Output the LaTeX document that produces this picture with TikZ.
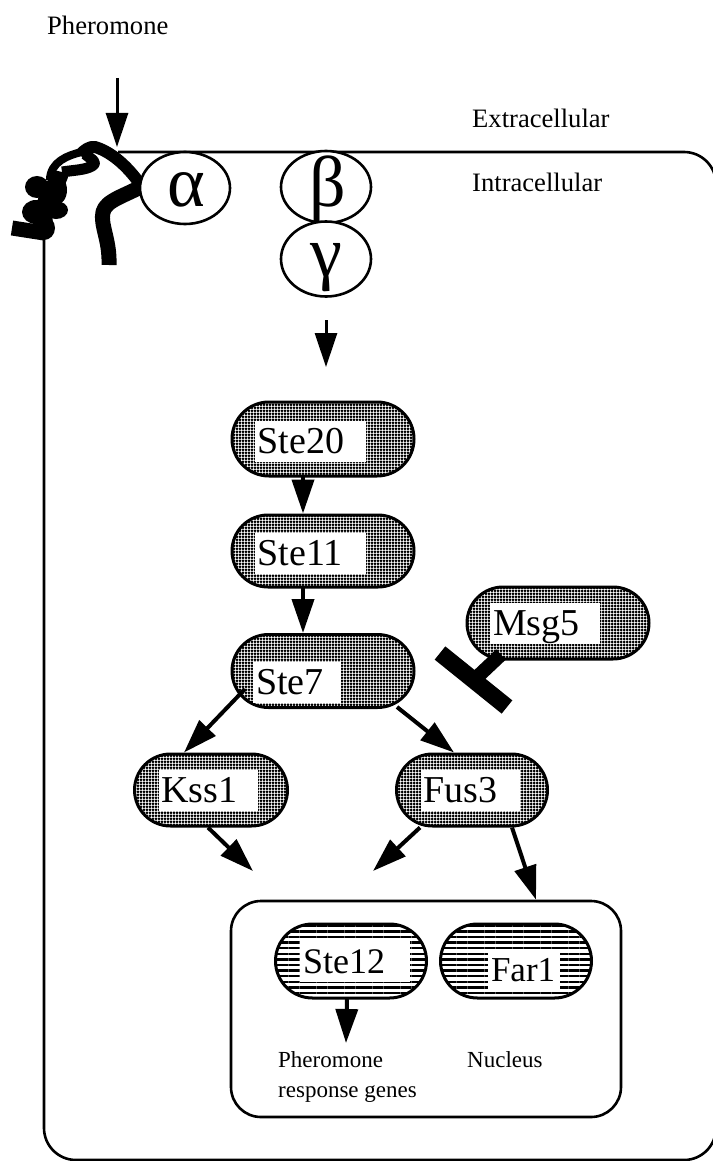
\documentclass[tikz,border=0pt]{standalone}
\usepackage{fontspec}
\setmainfont{Liberation Serif}
\usetikzlibrary{arrows.meta,shapes.misc,shapes.geometric,patterns.meta}
\tikzset{
  x=1pt,y=-1pt,
  pill/.style={rounded rectangle,draw=black,line width=3pt,inner sep=0pt},
  kinase/.style={pill,pattern={Dots[distance=3pt,radius=1.5pt,angle=0]}},
  nuclear/.style={pill,pattern={Lines[angle=0,distance=5.6pt,line width=2.4pt]}},
  tag/.style={fill=white,inner xsep=3pt,inner ysep=0pt,align=left,
    font=\fontsize{38}{40}\selectfont,text height=26pt,text depth=1pt},
  subunit/.style={ellipse,draw=black,line width=2.6pt,fill=white,inner sep=0pt,
    minimum width=90pt,minimum height=72pt},
  greek/.style={inner sep=0pt,font=\fontsize{72}{72}\selectfont},
  caption/.style={anchor=base west,inner sep=0pt,font=\fontsize{26.6}{30}\selectfont},
  small/.style={anchor=base west,inner sep=0pt,font=\fontsize{23}{30}\selectfont},
  signal/.style={line width=3pt,-{Triangle[length=34pt,width=22pt]}},
  shortsignal/.style={line width=4pt,-{Triangle[length=34pt,width=22pt]}},
  receptor/.style={line width=12pt,line join=round},
}
\begin{document}
\begin{tikzpicture}
\useasboundingbox (0,0) rectangle (712,1161);

% cell outline
\draw[line width=2.6pt,rounded corners=32pt] (44,230) -- (44,1160) -- (716,1160) -- (716,152) -- (118,152);

% seven-helix receptor threading the membrane
\draw[receptor,line width=15pt] (109,265) .. controls (110,240) and (100,225) .. (103,212)
  .. controls (106,200) and (125,196) .. (144,185);
\draw[receptor,line width=12pt] (144,190) .. controls (130,168) and (112,152) .. (95,147)
  .. controls (90,146) and (84,150) .. (80,155);
\draw[receptor,line width=11pt] (85,154) .. controls (92,160) and (98,162) .. (92,166)
  .. controls (85,170) and (75,170) .. (62,172);
\draw[receptor,line width=8pt] (82,152) .. controls (68,155) and (50,162) .. (50,180);
\draw[receptor,line width=14pt] (62,172) .. controls (60,185) and (50,190) .. (45,200)
  .. controls (40,212) and (50,222) .. (44,230);
\fill (37,187) ellipse [x radius=12pt,y radius=11pt];
\fill (56,190) ellipse [x radius=11pt,y radius=15pt];
\fill (36,212) ellipse [x radius=14pt,y radius=12pt];
\fill (56,210) ellipse [x radius=12pt,y radius=9pt];
\fill (44,228) ellipse [x radius=11pt,y radius=12pt];
\draw[line width=15pt] (12,228) -- (44,233);

% G protein subunits
\node[subunit] (alpha) at (185,188) {};
\node[subunit] (beta) at (326,187) {};
\node[subunit,minimum height=75pt] (gamma) at (326,259) {};
\node[greek] at (186,190) {α};
\node[greek] at (328,189) {β};
\node[greek] at (326,268) {γ};

% kinase cascade
\node[kinase,minimum width=182pt,minimum height=74pt] (ste20) at (323,439) {};
\node[kinase,minimum width=182pt,minimum height=72pt] (ste11) at (323,551) {};
\node[kinase,minimum width=182pt,minimum height=73pt] (ste7) at (323,671) {};
\node[kinase,minimum width=182pt,minimum height=72pt] (msg5) at (558,623) {};
\node[kinase,minimum width=153pt,minimum height=72pt] (kss1) at (211,790) {};
\node[kinase,minimum width=151pt,minimum height=72pt] (fus3) at (472,790) {};

\node[tag,text width=105pt,minimum height=41pt] (t20) at (310,441) {Ste20};
\node[tag,text width=105pt,minimum height=41pt] (t11) at (310,553) {Ste11};
\node[tag,text width=82pt,minimum height=41pt] (t7) at (297,682) {Ste7};
\node[tag,text width=104pt,minimum height=41pt] (t5) at (545,623) {Msg5};
\node[tag,text width=93pt,minimum height=41pt] (tk) at (208,790) {Kss1};
\node[tag,text width=93pt,minimum height=41pt] (tf) at (470,790) {Fus3};

% nucleus and its contents
\node[draw=black,line width=2.6pt,rounded corners=30pt,minimum width=390pt,minimum height=216pt,inner sep=0pt] (nucleus) at (426,1009) {};
\node[nuclear,minimum width=151pt,minimum height=74pt] (ste12) at (351,961) {};
\node[nuclear,minimum width=151pt,minimum height=74pt] (far1) at (516,961) {};
\node[tag,text width=104pt,minimum height=41pt,font=\fontsize{36}{40}\selectfont] (t12) at (355,961) {Ste12};
\node[tag,text width=66pt,minimum height=39pt,font=\fontsize{35}{40}\selectfont] (tr) at (524,969) {Far1};

% texts
\node[caption] (pher) at (47,35) {Pheromone};
\node[caption] (ext) at (472,128) {Extracellular};
\node[caption] (int) at (472,192) {Intracellular};
\node[small] (g1) at (278,1067) {Pheromone};
\node[small] (g2) at (278,1097) {response genes};
\node[small] (nuc) at (467,1067) {Nucleus};

% signalling arrows
\coordinate (pherstart) at (117,78);
\coordinate (pherend) at (117,147);
\draw[signal] (pherstart) -- (pherend);
\coordinate (gbend) at (326,320);
\coordinate (gbtip) at (326,367);
\draw[signal] (gbend) -- (gbtip);
\draw[shortsignal,shorten <=-1pt] ([xshift=-20pt]ste20.south) -- ([xshift=-20pt]ste11.north);
\draw[shortsignal,shorten <=-1pt] ([xshift=-20pt]ste11.south) -- ([xshift=-20pt]ste7.north);
\coordinate (s7left) at (245,689);
\draw[shortsignal] (s7left) -- ([xshift=-27pt]kss1.north);
\coordinate (s7right) at (397,707);
\draw[shortsignal] (s7right) -- ([xshift=-18pt]fus3.north);
\coordinate (kssend) at (253,871);
\draw[shortsignal] ([xshift=-3pt]kss1.south) -- (kssend);
\coordinate (fusend) at (373,871);
\draw[shortsignal] ([xshift=-52pt]fus3.south) -- (fusend);
\draw[shortsignal] ([xshift=40pt]fus3.south) -- ([xshift=110pt]nucleus.north);
\coordinate (geneend) at (346,1043);
\draw[shortsignal] ([xshift=-4pt]ste12.south) -- (geneend);

% Msg5 inhibition of Ste7
\coordinate (barA) at (440,653);
\coordinate (barB) at (507,707);
\coordinate (barmid) at (474,680);
\draw[line width=17pt] (barA) -- (barB);
\draw[line width=14pt] (barmid) -- ([xshift=-57pt,yshift=6pt]msg5.south);
\end{tikzpicture}
\end{document}
